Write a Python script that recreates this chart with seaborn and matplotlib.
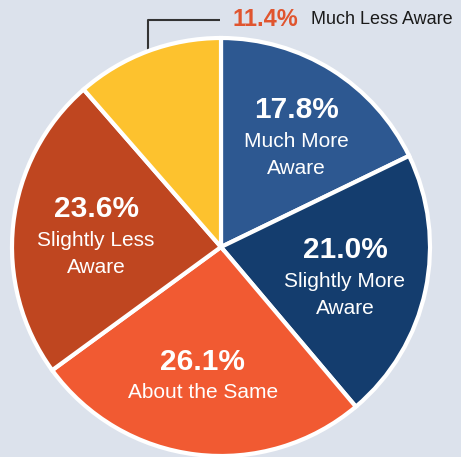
import numpy as np
import matplotlib
matplotlib.use("Agg")
import matplotlib.pyplot as plt
import seaborn as sns

# data, clockwise from 12 o'clock
labels = ["Much More\nAware", "Slightly More\nAware", "About the Same",
          "Slightly Less\nAware", "Much Less Aware"]
shares = [17.8, 21.0, 26.1, 23.6, 11.4]
colors = ["#2d5891", "#143d6e", "#f15a32", "#bf4620", "#fdc22e"]

# where the percentage sits: radius, and angle offset from the slice middle
label_polar = [(0.747, 3.3), (0.593, 10.5), (0.557, -2.2), (0.624, -10.4)]

bg = "#dce2ec"

sns.set_theme(style="white")
plt.rcParams['font.family'] = ['Liberation Sans', 'DejaVu Sans']

fig = plt.figure(figsize=(4.61, 4.57), dpi=100)
fig.patch.set_facecolor(bg)
ax = fig.add_axes([0, 0, 1, 1])
ax.set_facecolor(bg)

# pixel geometry of the pie in the picture
cx, cy, r = 221, 247, 209
W, H = 461, 457

wedges, _ = ax.pie(shares, colors=colors, startangle=90, counterclock=False,
                   wedgeprops=dict(edgecolor="white", linewidth=3))
ax.set_xlim(-cx / r, (W - cx) / r)
ax.set_ylim(-(H - cy) / r, cy / r)
ax.set_aspect("auto")
ax.axis("off")

# inside labels
for w, lab, val, (rad, off) in zip(wedges[:4], labels[:4], shares[:4], label_polar):
    mid = np.deg2rad((w.theta1 + w.theta2) / 2 + off)
    x, y = rad * np.cos(mid), rad * np.sin(mid)
    ax.text(x, y, f"{val:.1f}%", color="white", fontsize=21.5,
            fontweight="bold", ha="center", va="center")
    for i, line in enumerate(lab.split("\n")):
        ax.text(x, y - (31 + 27 * i) / r, line, color="white", fontsize=15,
                ha="center", va="center")

# leader for the small slice
w = wedges[4]
mid = np.deg2rad((w.theta1 + w.theta2) / 2)
x0, y0 = np.cos(mid), np.sin(mid)
ly = (cy - 20) / r
lx = (220 - cx) / r
ax.plot([x0, x0, lx], [y0, ly, ly], color="#333333", lw=1.5,
        solid_capstyle="butt", zorder=0)
ax.text((232 - cx) / r, ly, f"{shares[4]:.1f}%", color="#e0552f",
        fontsize=17, fontweight="bold", ha="left", va="center")
ax.text((311 - cx) / r, ly, labels[4], color="#1a1a1a", fontsize=13,
        ha="left", va="center")

fig.savefig("out.png", dpi=100, facecolor=bg)
